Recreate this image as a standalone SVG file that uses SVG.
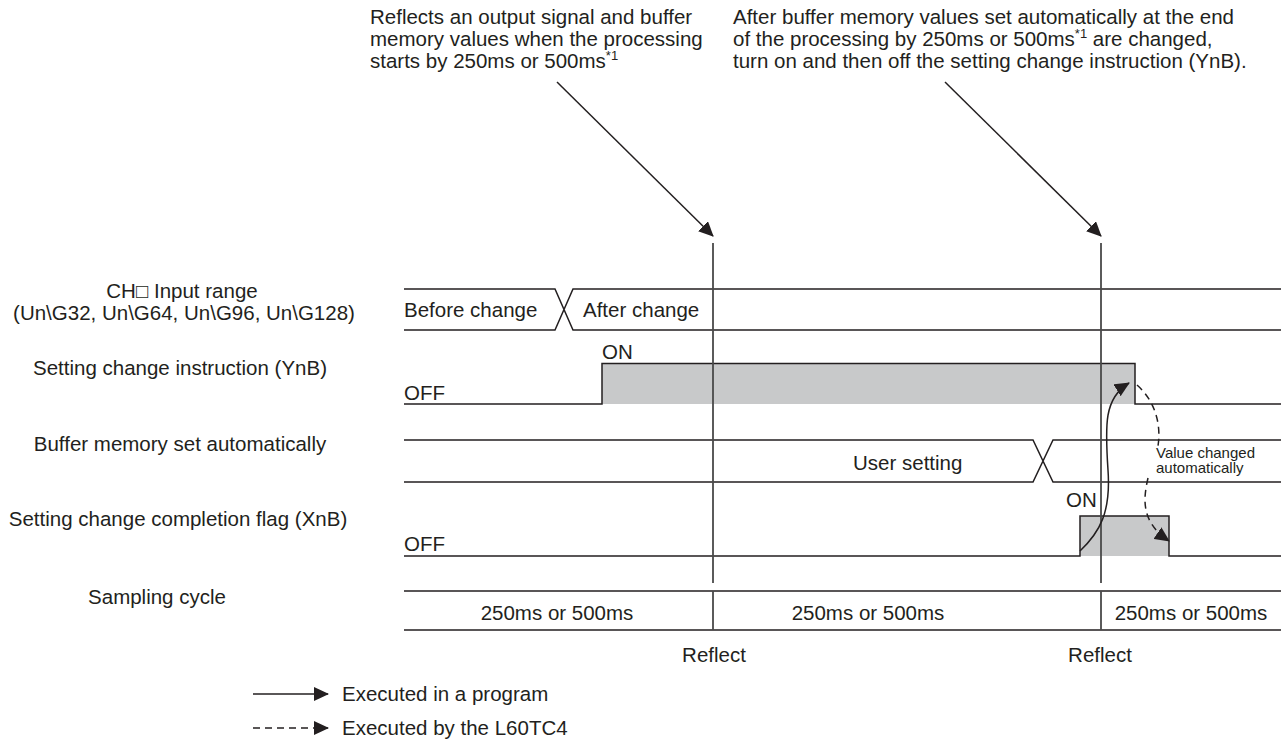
<svg xmlns="http://www.w3.org/2000/svg" width="1281" height="742" viewBox="0 0 1281 742">
<style>
text{font-family:"Liberation Sans",Arial,sans-serif;font-size:20.5px;fill:#231f20}
.c{text-anchor:middle}
.sm{font-size:15px}
.sup{font-size:13px}
.ln{fill:none;stroke:#231f20;stroke-width:1.5}
.vl{fill:none;stroke:#4a4a4a;stroke-width:1.8}
.sh{fill:#c8c9ca}
.ar{fill:none;stroke:#231f20;stroke-width:1.5}
.da{fill:none;stroke:#231f20;stroke-width:1.5;stroke-dasharray:7,5}
</style>
<defs>
<marker id="ah" markerUnits="userSpaceOnUse" markerWidth="16" markerHeight="14" refX="14" refY="7" orient="auto" viewBox="0 0 16 14">
<path d="M0,0 L15,7 L0,14 z" fill="#231f20"/>
</marker>
</defs>

<g id="annotation-left">
<text x="370" y="24">Reflects an output signal and buffer</text>
<text x="370" y="46">memory values when the processing</text>
<text x="370" y="68">starts by 250ms or 500ms<tspan class="sup" dy="-8">*1</tspan></text>
</g>
<g id="annotation-right">
<text x="733" y="24">After buffer memory values set automatically at the end</text>
<text x="733" y="46">of the processing by 250ms or 500ms<tspan class="sup" dy="-8">*1</tspan><tspan dy="8"> are changed,</tspan></text>
<text x="733" y="68">turn on and then off the setting change instruction (YnB).</text>
</g>

<g id="labels">
<text class="c" x="182" y="298">CH□ Input range</text>
<text class="c" x="184" y="320">(Un\G32, Un\G64, Un\G96, Un\G128)</text>
<text class="c" x="180" y="375">Setting change instruction (YnB)</text>
<text class="c" x="180" y="451">Buffer memory set automatically</text>
<text class="c" x="178" y="526">Setting change completion flag (XnB)</text>
<text class="c" x="157" y="604">Sampling cycle</text>
</g>

<g id="row-input-range">
<path class="ln" d="M404,289 H555 L573,330 H1281 M404,330 H555 L573,289 H1281"/>
<text x="404" y="317">Before change</text>
<text x="583" y="317">After change</text>
</g>

<g id="row-setting-change">
<rect class="sh" x="602" y="363.5" width="533" height="40.5"/>
<path class="ln" d="M404,404 H602 V363.5 H1135 V404 H1281"/>
<text x="602" y="359">ON</text>
<text x="404" y="400">OFF</text>
</g>

<g id="row-buffer-memory">
<path class="ln" d="M404,440 H1033 L1053,482 H1281 M404,482 H1033 L1053,440 H1281"/>
<text x="853" y="470">User setting</text>
</g>

<g id="row-completion-flag">
<rect class="sh" x="1080" y="516" width="89" height="40"/>
<path class="ln" d="M404,556 H1080 V516 H1169 V556 H1281"/>
<text x="1066" y="507">ON</text>
<text x="404" y="551">OFF</text>
</g>

<g id="row-sampling">
<path class="ln" d="M404,591 H1281 M404,630 H1281"/>
<path class="vl" d="M713,591 V630 M1101,591 V630"/>
<text class="c" x="557" y="620">250ms or 500ms</text>
<text class="c" x="868" y="620">250ms or 500ms</text>
<text class="c" x="1191" y="620">250ms or 500ms</text>
<text class="c" x="714" y="662">Reflect</text>
<text class="c" x="1100" y="662">Reflect</text>
</g>

<g id="connectors">
<path class="vl" d="M713,243 V583 M1101,243 V583"/>
<path class="ar" d="M557,82 L713,236" marker-end="url(#ah)"/>
<path class="ar" d="M945,82 L1101,236" marker-end="url(#ah)"/>
<path class="ar" d="M1080,551 C1100,532 1111,512 1108,470 C1105,425 1104,398 1129,383" marker-end="url(#ah)"/>
<path class="da" d="M1137,385 C1152,398 1162,420 1158,446"/>
<path class="da" d="M1148,478 C1143,500 1141,522 1169,541" marker-end="url(#ah)"/>
<text class="sm" x="1156" y="458">Value changed</text>
<text class="sm" x="1156" y="473">automatically</text>
</g>

<g id="legend">
<path class="ar" d="M253,694 H328" marker-end="url(#ah)"/>
<text x="342" y="701">Executed in a program</text>
<path class="da" d="M253,728 H328" marker-end="url(#ah)"/>
<text x="342" y="735">Executed by the L60TC4</text>
</g>
</svg>
